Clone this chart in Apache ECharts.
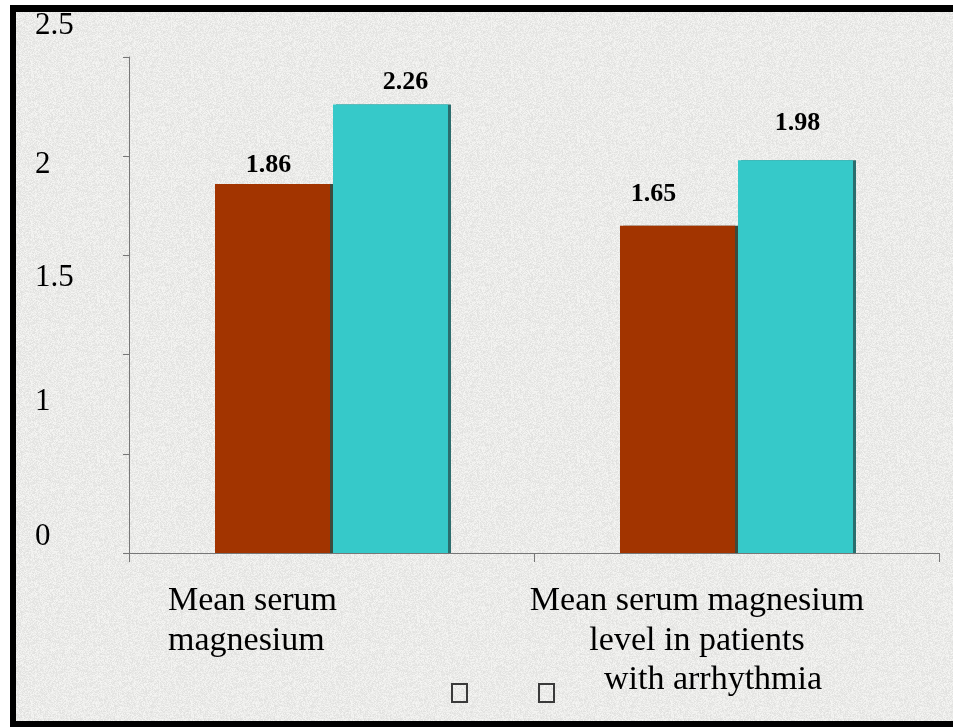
<!DOCTYPE html>
<html>
<head>
<meta charset="utf-8">
<script src="https://cdn.jsdelivr.net/npm/echarts@6/dist/echarts.min.js"></script>
<style>
  html, body { margin: 0; padding: 0; width: 953px; height: 727px; overflow: hidden; background: #ffffff; }
  #frame {
    position: absolute; left: 10px; top: 5px; width: 960px; height: 709px;
    border-top: 7px solid #000; border-left: 6px solid #000; border-bottom: 6px solid #000;
    background-color: #e7e7e5;
  }
  #chart { position: absolute; left: 0; top: 0; width: 953px; height: 727px; }
</style>
</head>
<body>
<div id="frame"></div>
<div id="chart"></div>
<script>
// Category names, split into the lines they are printed on
const categoryLines = [
  ['Mean serum', 'magnesium'],
  ['Mean serum magnesium', 'level in patients', 'with arrhythmia']
];
const seriesNames = ['Series 1', 'Series 2'];
const seriesBrown = [1.86, 1.65];
const seriesCyan = [2.26, 1.98];

// y axis ticks and the text printed beside them
const yTickValues = [0, 0.5, 1, 1.5, 2, 2.5];
const yTickLabels = ['0', '', '1', '1.5', '2', '2.5'];

// Granite-like paper texture for the framed area (deterministic hash noise)
(function paintTexture() {
  const c = document.createElement('canvas');
  c.width = 160; c.height = 160;
  const ctx = c.getContext('2d');
  const img = ctx.createImageData(c.width, c.height);
  let s = 1234567;
  function next() { s = (s * 1103515245 + 12345) & 0x7fffffff; return s / 0x7fffffff; }
  for (let y = 0; y < c.height; y++) {
    for (let x = 0; x < c.width; x++) {
      const n = next();
      const g = Math.round(224 + n * 22);
      const i = (y * c.width + x) * 4;
      img.data[i] = g; img.data[i + 1] = g; img.data[i + 2] = g - 2; img.data[i + 3] = 255;
    }
  }
  ctx.putImageData(img, 0, 0);
  document.getElementById('frame').style.backgroundImage = 'url(' + c.toDataURL() + ')';
})();

const serif = '"Liberation Serif", "Times New Roman", serif';

// Vertical nudges for the y axis texts (in padding form)
const yLabelRich = {
  t0: { padding: [0, 0, 32, 0] },
  t1: {},
  t2: { padding: [94, 0, 0, 0] },
  t3: { padding: [44, 0, 0, 0] },
  t4: { padding: [18, 0, 0, 0] },
  t5: { padding: [0, 0, 62, 0] }
};
Object.keys(yLabelRich).forEach(k => {
  Object.assign(yLabelRich[k], { fontFamily: serif, fontSize: 31, color: '#000', align: 'left' });
});

// Per-bar label offsets
const brownLabelOffsets = [[-4, -1], [-24, -13]];
const cyanLabelOffsets = [[15, -4], [2, -19]];

function barData(values, offsets) {
  return values.map((v, i) => ({ value: v, label: { offset: offsets[i] } }));
}

const chart = echarts.init(document.getElementById('chart'), null, { renderer: 'canvas' });

chart.setOption({
  backgroundColor: 'transparent',
  animation: false,
  grid: { left: 129, right: 14, top: 57, bottom: 174, containLabel: false },
  legend: {
    left: 451, top: 683, padding: 0,
    itemWidth: 15, itemHeight: 18, itemGap: 70,
    icon: 'rect',
    itemStyle: { color: 'transparent', borderColor: '#3a3a3a', borderWidth: 2 },
    formatter: () => '',
    selectedMode: false,
    data: seriesNames
  },
  xAxis: {
    type: 'category',
    data: categoryLines.map(l => l.join(' ')),
    axisLine: { show: true, lineStyle: { color: '#777', width: 1 } },
    axisTick: { show: true, length: 9, lineStyle: { color: '#777' } },
    axisLabel: {
      margin: 28,
      interval: 0,
      formatter: (v, idx) => {
        const lines = categoryLines[idx];
        if (idx === 0) return lines.map(t => '{a|' + t + '}').join('\n');
        return '{b|' + lines[0] + '}\n{b|' + lines[1] + '}\n{c|' + lines[2] + '}';
      },
      rich: {
        a: { fontFamily: serif, fontSize: 34, lineHeight: 40, color: '#000', width: 327, align: 'left' },
        b: { fontFamily: serif, fontSize: 34, lineHeight: 40, color: '#000', width: 300, align: 'center', padding: [0, 79, 0, 0] },
        c: { fontFamily: serif, fontSize: 34, lineHeight: 38, color: '#000', width: 300, align: 'center', padding: [0, 63, 0, 16] }
      }
    }
  },
  yAxis: {
    type: 'value',
    min: 0, max: 2.5, interval: 0.5,
    axisLine: { show: true, lineStyle: { color: '#777', width: 1 } },
    axisTick: { show: true, length: 6, lineStyle: { color: '#777' } },
    splitLine: { show: false },
    axisLabel: {
      align: 'left',
      margin: 94,
      formatter: (val) => {
        const i = Math.round(val / 0.5);
        const txt = yTickLabels[i];
        return txt ? '{t' + i + '|' + txt + '}' : '';
      },
      rich: yLabelRich
    }
  },
  series: [
    {
      name: seriesNames[0],
      type: 'bar',
      barWidth: 115,
      barGap: '2.6%',
      data: barData(seriesBrown, brownLabelOffsets),
      itemStyle: { color: '#a23400', shadowColor: '#3e4a3c', shadowOffsetX: 3, shadowBlur: 0 },
      label: {
        show: true, position: 'top', distance: 5,
        fontFamily: serif, fontSize: 26, fontWeight: 'bold', color: '#000',
        formatter: p => p.value.toFixed(2)
      }
    },
    {
      name: seriesNames[1],
      type: 'bar',
      barWidth: 115,
      data: barData(seriesCyan, cyanLabelOffsets),
      itemStyle: { color: '#36c9c9', shadowColor: '#2b6d6d', shadowOffsetX: 3, shadowBlur: 0 },
      label: {
        show: true, position: 'top', distance: 5,
        fontFamily: serif, fontSize: 26, fontWeight: 'bold', color: '#000',
        formatter: p => p.value.toFixed(2)
      }
    }
  ]
});
</script>
</body>
</html>
